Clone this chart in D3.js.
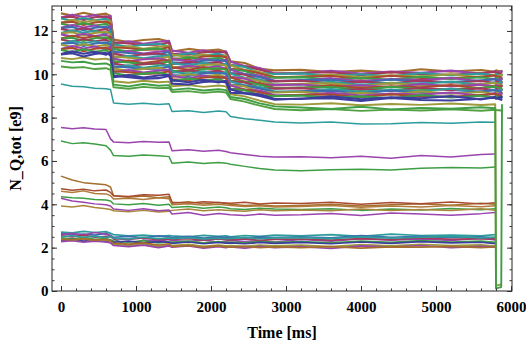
<!DOCTYPE html>
<html>
<head>
<meta charset="utf-8">
<script src="https://cdn.jsdelivr.net/npm/d3@7"></script>
<style>
  body { margin: 0; background: #fff; }
  svg { display: block; }
</style>
</head>
<body>
<svg id="chart" width="526" height="343"></svg>
<script>
// sample times [ms], shared by every curve
const times = [0, 150, 300, 450, 600, 660, 700, 900, 1100, 1300, 1440, 1480, 1700, 1900, 2100, 2200,
  2260, 2450, 2650, 2850, 3200, 3600, 4000, 4400, 4800, 5200, 5600, 5790, 5800, 5870, 5880];

// dense upper band, top to bottom
const bandLines = [
  [12.81,12.71,12.84,12.73,12.80,12.68, 11.60,11.49,11.58,11.63,11.51, 11.05,11.17,11.08,11.14,11.04, 10.60,10.52,10.25,10.18, 10.21,10.10,10.17,10.08,10.23,10.12,10.20,10.11, 10.18,10.10,10.19],
  [12.62,12.75,12.64,12.73,12.59,12.71, 11.42,11.52,11.41,11.50,11.54, 11.09,10.99,11.11,10.98,11.06, 10.58,10.38,10.29,10.04, 10.04,10.16,10.03,10.12,10.07,10.17,10.02,10.14, 10.05,10.15,10.07],
  [12.61,12.66,12.51,12.63,12.68,12.56, 11.48,11.42,11.35,11.37,11.47, 10.94,10.90,11.02,11.05,10.99, 10.43,10.37,10.21,10.02, 10.07,10.09,9.96,10.10,10.00,9.98,10.06,10.11, 10.09,10.02,9.98],
  [12.57,12.47,12.60,12.49,12.56,12.44, 11.38,11.27,11.36,11.41,11.29, 10.85,10.97,10.88,10.94,10.84, 10.42,10.34,10.07,10.01, 10.04,9.93,10.00,9.91,10.06,9.95,10.03,9.94, 10.01,9.93,10.02],
  [12.38,12.51,12.40,12.49,12.35,12.47, 11.19,11.29,11.18,11.27,11.31, 10.90,10.80,10.92,10.79,10.87, 10.40,10.20,10.11,9.87, 9.87,9.99,9.86,9.95,9.90,10.00,9.85,9.97, 9.88,9.98,9.90],
  [12.37,12.42,12.27,12.39,12.44,12.32, 11.26,11.20,11.13,11.15,11.25, 10.74,10.70,10.82,10.85,10.79, 10.25,10.19,10.04,9.85, 9.90,9.92,9.79,9.93,9.83,9.81,9.89,9.94, 9.92,9.85,9.81],
  [12.33,12.23,12.36,12.25,12.32,12.20, 11.16,11.05,11.14,11.19,11.07, 10.66,10.78,10.69,10.75,10.65, 10.23,10.15,9.90,9.84, 9.87,9.76,9.83,9.74,9.89,9.78,9.86,9.77, 9.84,9.76,9.85],
  [12.14,12.27,12.16,12.25,12.11,12.23, 10.97,11.07,10.96,11.05,11.09, 10.70,10.60,10.72,10.59,10.67, 10.21,10.01,9.94,9.70, 9.70,9.82,9.69,9.78,9.73,9.83,9.68,9.80, 9.71,9.81,9.73],
  [12.13,12.18,12.03,12.15,12.20,12.08, 11.04,10.98,10.91,10.93,11.03, 10.55,10.51,10.63,10.66,10.60, 10.06,10.01,9.86,9.68, 9.73,9.75,9.62,9.76,9.66,9.64,9.72,9.77, 9.75,9.68,9.64],
  [12.09,11.99,12.12,12.01,12.08,11.96, 10.94,10.83,10.92,10.97,10.85, 10.46,10.58,10.49,10.55,10.45, 10.05,9.98,9.72,9.67, 9.70,9.59,9.66,9.57,9.72,9.61,9.69,9.60, 9.67,9.59,9.68],
  [11.90,12.03,11.92,12.01,11.87,11.99, 10.75,10.85,10.74,10.83,10.87, 10.51,10.41,10.53,10.40,10.48, 10.03,9.84,9.76,9.53, 9.53,9.65,9.52,9.61,9.56,9.66,9.51,9.63, 9.54,9.64,9.56],
  [11.89,11.94,11.79,11.91,11.96,11.84, 10.82,10.76,10.69,10.71,10.81, 10.35,10.31,10.43,10.46,10.40, 9.88,9.83,9.69,9.51, 9.56,9.58,9.45,9.59,9.49,9.47,9.55,9.60, 9.58,9.51,9.47],
  [11.84,11.74,11.87,11.76,11.83,11.71, 10.71,10.60,10.69,10.74,10.62, 10.27,10.39,10.30,10.36,10.26, 9.87,9.80,9.55,9.50, 9.53,9.42,9.49,9.40,9.55,9.44,9.52,9.43, 9.50,9.42,9.51],
  [11.65,11.78,11.67,11.76,11.62,11.74, 10.53,10.63,10.52,10.61,10.65, 10.31,10.21,10.33,10.20,10.28, 9.85,9.66,9.60,9.37, 9.37,9.49,9.36,9.45,9.40,9.50,9.35,9.47, 9.38,9.48,9.40],
  [11.64,11.69,11.54,11.66,11.71,11.59, 10.60,10.54,10.47,10.49,10.59, 10.16,10.12,10.24,10.27,10.21, 9.70,9.65,9.52,9.34, 9.39,9.41,9.28,9.42,9.32,9.30,9.38,9.43, 9.41,9.34,9.30],
  [11.60,11.50,11.63,11.52,11.59,11.47, 10.49,10.38,10.47,10.52,10.40, 10.07,10.19,10.10,10.16,10.06, 9.69,9.62,9.38,9.33, 9.36,9.25,9.32,9.23,9.38,9.27,9.35,9.26, 9.33,9.25,9.34],
  [11.41,11.54,11.43,11.52,11.38,11.50, 10.31,10.41,10.30,10.39,10.43, 10.12,10.02,10.14,10.01,10.09, 9.67,9.49,9.42,9.20, 9.20,9.32,9.19,9.28,9.23,9.33,9.18,9.30, 9.21,9.31,9.23],
  [11.40,11.45,11.30,11.42,11.47,11.35, 10.37,10.31,10.24,10.26,10.36, 9.96,9.92,10.04,10.07,10.01, 9.52,9.48,9.34,9.17, 9.22,9.24,9.11,9.25,9.15,9.13,9.21,9.26, 9.24,9.17,9.13],
  [11.36,11.26,11.39,11.28,11.35,11.23, 10.27,10.16,10.25,10.30,10.18, 9.88,10.00,9.91,9.97,9.87, 9.50,9.44,9.20,9.16, 9.19,9.08,9.15,9.06,9.21,9.10,9.18,9.09, 9.16,9.08,9.17],
  [11.17,11.30,11.19,11.28,11.14,11.26, 10.09,10.19,10.08,10.17,10.21, 9.92,9.82,9.94,9.81,9.89, 9.48,9.30,9.25,9.03, 9.03,9.15,9.02,9.11,9.06,9.16,9.01,9.13, 9.04,9.14,9.06],
  [11.16,11.21,11.06,11.18,11.23,11.11, 10.15,10.09,10.02,10.04,10.14, 9.77,9.73,9.85,9.88,9.82, 9.33,9.29,9.17,9.00, 9.05,9.07,8.94,9.08,8.98,8.96,9.04,9.09, 9.07,9.00,8.96],
  [11.12,11.02,11.15,11.04,11.11,10.99, 10.05,9.94,10.03,10.08,9.96, 9.68,9.80,9.71,9.77,9.67, 9.32,9.26,9.03,8.99, 9.02,8.91,8.98,8.89,9.04,8.93,9.01,8.92, 8.99,8.91,9.00],
  [10.93,11.06,10.95,11.04,10.90,11.02, 9.86,9.96,9.85,9.94,9.98, 9.73,9.63,9.75,9.62,9.70, 9.30,9.13,9.08,8.86, 8.86,8.98,8.85,8.94,8.89,8.99,8.84,8.96, 8.87,8.97,8.89],
  [10.92,10.97,10.82,10.94,10.99,10.87, 9.93,9.87,9.80,9.82,9.92, 9.57,9.53,9.65,9.68,9.62, 9.15,9.12,9.00,8.83, 8.88,8.90,8.77,8.91,8.81,8.79,8.87,8.92, 8.90,8.83,8.79]
];
const bandColors = ["#a46e2c", "#9a45ae", "#a33a5c", "#2f9c9c", "#9c9a3a", "#a9492e", "#3e9e45", "#9a45ae",
  "#3d6db0", "#a33a5c", "#2f9c9c", "#9c9a3a", "#9a45ae", "#a9492e", "#3e9e45", "#a33a5c",
  "#2f9c9c", "#3d6db0", "#9c9a3a", "#9a45ae", "#a9492e", "#3e9e45", "#3d3d9e", "#3d3d9e"];

// curves just below the band
const oliveLow = [10.75,10.70,10.78,10.68,10.72,10.66, 9.68,9.61,9.70,9.63,9.66, 9.45,9.50,9.42,9.48,9.44, 9.08,8.98,8.78,8.62, 8.60,8.66,8.57,8.63,8.59,8.65,8.58,8.62, 0.25,0.30];
const greenA = [10.62,10.55,10.58,10.47,10.50,10.41, 9.52,9.44,9.55,9.47,9.50, 9.28,9.35,9.25,9.31,9.27, 8.95,8.86,8.66,8.52, 8.47,8.40,8.50,8.38,8.45,8.41,8.48,8.43, 0.12,0.18,8.62];
const greenB = [10.36,10.30,10.33,10.24,10.28,10.20, 9.40,9.33,9.42,9.36,9.38, 9.18,9.22,9.14,9.20,9.16, 8.86,8.74,8.55,8.40, 8.34,8.39,8.31,8.37,8.33,8.38,8.32,8.36, 8.35,8.33,8.37];
const tealMid = [9.55,9.45,9.42,9.36,9.33,9.30, 8.68,8.62,8.66,8.60,8.64, 8.28,8.32,8.24,8.30,8.27, 8.05,7.95,7.88,7.80, 7.75,7.80,7.70,7.72,7.78,7.74,7.80,7.79];
const purpleMid = [7.54,7.49,7.53,7.47,7.45,7.02, 6.88,6.84,6.90,6.86,6.88, 6.47,6.52,6.45,6.49,6.44, 6.38,6.30,6.22,6.18, 6.20,6.15,6.22,6.12,6.25,6.18,6.30,6.32];
const greenMid = [6.92,6.80,6.84,6.78,6.70,6.50, 6.25,6.22,6.28,6.24,6.20, 5.90,5.95,5.88,5.93,5.90, 5.85,5.75,5.65,5.58, 5.55,5.60,5.62,5.58,5.66,5.70,5.68,5.72];

// group around 4
const lowLines = [
  [5.30,5.12,5.00,4.95,4.90,4.80, 4.40,4.32,4.38,4.30,4.35, 4.05,4.12,4.02,4.08,4.04, 4.00,3.95,3.98,3.92, 3.95,4.00,3.92,3.98,4.02,3.96,4.05,4.00],
  [4.72,4.65,4.70,4.62,4.66,4.55, 4.40,4.36,4.44,4.42,4.46, 4.10,4.05,4.12,4.08,4.06, 4.05,4.10,4.02,4.06, 4.04,4.10,4.00,4.08,4.03,4.11,4.02,4.07],
  [4.60,4.55,4.62,4.50,4.48,4.40, 4.25,4.28,4.22,4.30,4.26, 3.98,4.02,3.96,4.00,3.97, 3.95,3.90,3.93,3.88, 3.90,3.94,3.86,3.92,3.88,3.95,3.89,3.93],
  [4.35,4.30,4.28,4.22,4.20,4.15, 4.02,3.98,4.04,3.96,4.00, 3.85,3.90,3.82,3.88,3.84, 3.80,3.76,3.82,3.78, 3.76,3.80,3.72,3.78,3.74,3.81,3.75,3.79],
  [3.92,3.88,3.95,3.85,3.80,3.76, 3.70,3.66,3.72,3.64,3.68, 3.72,3.78,3.70,3.75,3.73, 3.72,3.68,3.75,3.70, 3.74,3.70,3.78,3.72,3.76,3.71,3.79,3.73],
  [4.28,4.15,4.10,4.02,3.98,3.92, 3.78,3.72,3.80,3.70,3.74, 3.55,3.62,3.50,3.58,3.54, 3.52,3.48,3.55,3.50, 3.52,3.58,3.48,3.60,3.55,3.50,3.57,3.62]
];
const lowColors = ["#a46e2c", "#a9492e", "#b07a3a", "#3e9e45", "#a8863a", "#9a45ae"];

// group around 2.4
const bottomLines = [
  [2.72,2.68,2.75,2.70,2.74,2.66, 2.60,2.55,2.58,2.52,2.56, 2.54,2.50,2.57,2.52,2.55, 2.50,2.56,2.52,2.58, 2.55,2.60,2.52,2.62,2.56,2.58,2.54,2.60],
  [2.65,2.60,2.62,2.58,2.66,2.55, 2.48,2.52,2.45,2.55,2.50, 2.46,2.52,2.44,2.50,2.47, 2.48,2.44,2.50,2.46, 2.50,2.45,2.56,2.48,2.52,2.46,2.50,2.44],
  [2.60,2.66,2.58,2.70,2.62,2.56, 2.40,2.10,2.35,2.30,2.38, 2.32,2.28,2.36,2.25,2.30, 2.34,2.28,2.32,2.26, 2.38,2.30,2.42,2.35,2.40,2.33,2.44,2.36],
  [2.55,2.50,2.58,2.48,2.52,2.50, 2.42,2.38,2.45,2.36,2.40, 2.38,2.42,2.35,2.40,2.37, 2.36,2.40,2.34,2.38, 2.40,2.35,2.42,2.37,2.45,2.38,2.42,2.40],
  [2.45,2.40,2.48,2.38,2.42,2.36, 2.30,2.25,2.32,2.22,2.28, 2.25,2.30,2.22,2.28,2.24, 2.26,2.22,2.28,2.24, 2.28,2.22,2.30,2.25,2.32,2.26,2.30,2.24],
  [2.32,2.38,2.30,2.35,2.28,2.33, 2.25,2.30,2.22,2.28,2.24, 2.20,2.26,2.18,2.24,2.21, 2.22,2.18,2.24,2.20, 2.24,2.18,2.26,2.20,2.28,2.22,2.25,2.19],
  [2.38,2.34,2.40,2.32,2.36,2.30, 2.15,2.10,2.18,2.05,2.12, 2.10,2.15,2.06,2.12,2.08, 2.10,2.06,2.12,2.08, 2.12,2.05,2.14,2.08,2.15,2.10,2.13,2.07],
  [2.28,2.32,2.25,2.30,2.26,2.22, 2.10,2.05,2.12,2.00,2.08, 2.02,2.08,1.98,2.05,2.00, 2.04,1.98,2.06,2.00, 2.05,1.96,2.08,2.02,2.10,2.00,2.06,2.02],
  [2.40,2.36,2.42,2.35,2.38,2.33, 2.20,2.16,2.22,2.12,2.18, 2.05,2.10,2.02,2.08,2.04, 2.02,2.06,2.00,2.04, 2.00,2.05,1.98,2.04,2.02,2.06,2.00,2.03],
  [2.50,2.55,2.48,2.53,2.46,2.52, 2.44,2.40,2.48,2.42,2.45, 2.42,2.46,2.40,2.44,2.41, 2.43,2.47,2.41,2.45, 2.46,2.42,2.50,2.44,2.48,2.52,2.45,2.49]
];
const bottomColors = ["#2f9c9c", "#3d6db0", "#9a45ae", "#a33a5c", "#3e9e45", "#3d3d9e", "#9c9a3a", "#9a45ae", "#a46e2c", "#2f9c9c"];

const xMajor = [0, 1000, 2000, 3000, 4000, 5000, 6000];
const xMinor = d3.range(0, 6001, 200);
const yMajor = [0, 2, 4, 6, 8, 10, 12];
const yMinor = d3.range(0, 13.01, 0.5);

var svg = d3.select("#chart"),
  plotL = 52, plotR = 512, plotT = 6, plotB = 291;

var x = d3.scaleLinear().domain([-120, 6013.3]).range([plotL, plotR]),
  y = d3.scaleLinear().domain([0, 13.15]).range([plotB, plotT]);

var line = d3.line()
  .defined(d => d.v != null)
  .x(d => x(d.t))
  .y(d => y(d.v));

function draw(values, color, w) {
  var pts = times.map((t, i) => ({ t: t, v: values[i] }));
  svg.append("path")
    .datum(pts)
    .attr("d", line)
    .attr("fill", "none")
    .attr("stroke", color)
    .attr("stroke-width", w || 1.5)
    .attr("stroke-linejoin", "round");
}

bottomLines.forEach((v, i) => draw(v, bottomColors[i], 1.7));
lowLines.forEach((v, i) => draw(v, lowColors[i]));
draw(greenMid, "#3e9e45");
draw(purpleMid, "#9a45ae");
draw(tealMid, "#2f9c9c");
draw(oliveLow, "#9c9a3a", 1.9);
draw(greenB, "#52a040", 1.9);
bandLines.forEach((v, i) => draw(v, bandColors[i], 2.1));
draw(greenA, "#3e9e45", 1.9);

// frame
svg.append("rect")
  .attr("x", plotL).attr("y", plotT)
  .attr("width", plotR - plotL).attr("height", plotB - plotT)
  .attr("fill", "none").attr("stroke", "#222").attr("stroke-width", 1);

var font = "'Liberation Serif', 'Times New Roman', serif";

function ticks(axis, transform, labels) {
  var g = svg.append("g")
    .attr("transform", transform)
    .style("color", "#333")
    .call(axis);
  g.select(".domain").remove();
  g.selectAll("text")
    .attr("font-family", font)
    .attr("font-weight", "bold")
    .attr("font-size", 15)
    .attr("fill", "#000");
  if (!labels) g.selectAll("text").remove();
  return g;
}

// bottom / top
ticks(d3.axisBottom(x).tickValues(xMajor).tickSize(-5).tickPadding(10).tickFormat(d3.format("d")),
  "translate(0," + plotB + ")", true);
ticks(d3.axisBottom(x).tickValues(xMinor).tickSize(-2.5), "translate(0," + plotB + ")", false);
ticks(d3.axisTop(x).tickValues(xMajor).tickSize(-5), "translate(0," + plotT + ")", false);
ticks(d3.axisTop(x).tickValues(xMinor).tickSize(-2.5), "translate(0," + plotT + ")", false);

// left / right
ticks(d3.axisLeft(y).tickValues(yMajor).tickSize(-5).tickPadding(3.5).tickFormat(d3.format("d")),
  "translate(" + plotL + ",0)", true);
ticks(d3.axisLeft(y).tickValues(yMinor).tickSize(-2.5), "translate(" + plotL + ",0)", false);
ticks(d3.axisRight(y).tickValues(yMajor).tickSize(-5), "translate(" + plotR + ",0)", false);
ticks(d3.axisRight(y).tickValues(yMinor).tickSize(-2.5), "translate(" + plotR + ",0)", false);

// axis titles
svg.append("text")
  .attr("x", (plotL + plotR) / 2)
  .attr("y", 338)
  .attr("text-anchor", "middle")
  .attr("font-family", font)
  .attr("font-weight", "bold")
  .attr("font-size", 16)
  .text("Time [ms]");

svg.append("text")
  .attr("text-anchor", "middle")
  .attr("transform", "translate(21," + (plotT + plotB) / 2 + ")rotate(-90)")
  .attr("font-family", font)
  .attr("font-weight", "bold")
  .attr("font-size", 16)
  .text("N_Q,tot [e9]");
</script>
</body>
</html>
